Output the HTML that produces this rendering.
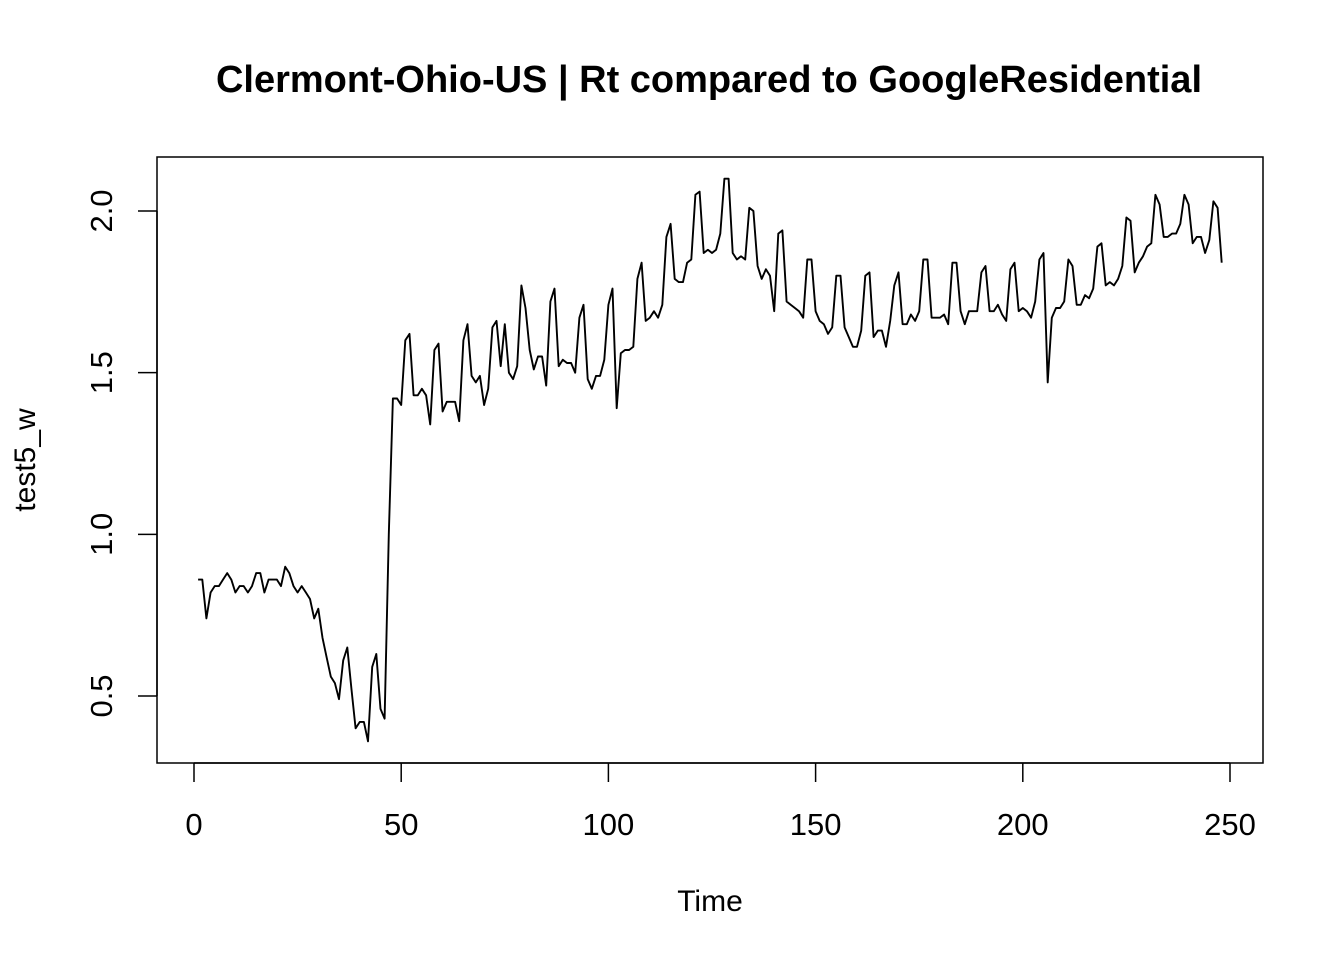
<!DOCTYPE html>
<html><head><meta charset="utf-8"><style>
html,body{margin:0;padding:0;background:#fff;}
svg{display:block;font-family:"Liberation Sans",Arial,sans-serif;}
</style></head><body>
<svg id="chart" width="1344" height="960">
<text x="709" y="92" text-anchor="middle" font-size="38" font-weight="bold">Clermont-Ohio-US | Rt compared to GoogleResidential</text>
<rect x="157" y="157" width="1106" height="606" fill="none" stroke="#000" stroke-width="1.5"/>
<g id="xaxis"></g>
<g id="yaxis"></g>
<text x="710" y="911" text-anchor="middle" font-size="30">Time</text>
<text transform="translate(35,460) rotate(-90)" text-anchor="middle" font-size="30">test5_w</text>
<path id="series" fill="none" stroke="#000" stroke-width="1.9" stroke-linejoin="round"/>
</svg>
<script>
const xTicks=[0,50,100,150,200,250];
const yTicks=[0.5,1.0,1.5,2.0];
const yTickLabels=["0.5","1.0","1.5","2.0"];
const values=[0.86,0.86,0.74,0.82,0.84,0.84,0.86,0.88,0.86,0.82,0.84,0.84,0.82,0.84,0.88,0.88,0.82,0.86,0.86,0.86,0.84,0.90,0.88,0.84,0.82,0.84,0.82,0.80,0.74,0.77,
0.68,0.62,0.56,0.54,0.49,0.61,0.65,0.52,0.40,0.42,0.42,0.36,0.59,0.63,0.46,0.43,1.00,1.42,1.42,1.40,
1.60,1.62,1.43,1.43,1.45,1.43,1.34,1.57,1.59,1.38,1.41,1.41,1.41,1.35,1.60,1.65,1.49,1.47,1.49,1.40,
1.45,1.64,1.66,1.52,1.65,1.50,1.48,1.52,1.77,1.70,1.57,1.51,1.55,1.55,1.46,1.72,1.76,1.52,1.54,1.53,
1.53,1.50,1.67,1.71,1.48,1.45,1.49,1.49,1.54,1.71,1.76,1.39,1.56,1.57,1.57,1.58,1.79,1.84,1.66,1.67,
1.69,1.67,1.71,1.92,1.96,1.79,1.78,1.78,1.84,1.85,2.05,2.06,1.87,1.88,1.87,1.88,1.93,2.10,2.10,1.87,
1.85,1.86,1.85,2.01,2.00,1.83,1.79,1.82,1.80,1.69,1.93,1.94,1.72,1.71,1.70,1.69,1.67,1.85,1.85,1.69,
1.66,1.65,1.62,1.64,1.80,1.80,1.64,1.61,1.58,1.58,1.63,1.80,1.81,1.61,1.63,1.63,1.58,1.66,1.77,1.81,
1.65,1.65,1.68,1.66,1.69,1.85,1.85,1.67,1.67,1.67,1.68,1.65,1.84,1.84,1.69,1.65,1.69,1.69,1.69,1.81,
1.83,1.69,1.69,1.71,1.68,1.66,1.82,1.84,1.69,1.70,1.69,1.67,1.72,1.85,1.87,1.47,1.67,1.70,1.70,1.72,
1.85,1.83,1.71,1.71,1.74,1.73,1.76,1.89,1.90,1.77,1.78,1.77,1.79,1.83,1.98,1.97,1.81,1.84,1.86,1.89,
1.90,2.05,2.02,1.92,1.92,1.93,1.93,1.96,2.05,2.02,1.90,1.92,1.92,1.87,1.91,2.03,2.01,1.84];
const xs=t=>194+(t/250)*1036;
const ys=v=>696-(v-0.5)*(485/1.5);
const NS="http://www.w3.org/2000/svg";
const xa=document.getElementById('xaxis'), ya=document.getElementById('yaxis');
function mk(tag,attrs,parent){const e=document.createElementNS(NS,tag);for(const k in attrs)e.setAttribute(k,attrs[k]);parent.appendChild(e);return e;}
mk('line',{x1:xs(xTicks[0]),x2:xs(xTicks[xTicks.length-1]),y1:763,y2:763,stroke:'#000','stroke-width':1.5},xa);
xTicks.forEach(t=>{
  const l=mk('line',{x1:xs(t),x2:xs(t),y1:763,y2:782,stroke:'#000','stroke-width':1.5},xa);
  
  
  const tx=mk('text',{x:xs(t),y:835,'text-anchor':'middle','font-size':31},xa);
  tx.textContent=String(t);
  
  
});
mk('line',{x1:157,x2:157,y1:ys(yTicks[0]),y2:ys(yTicks[yTicks.length-1]),stroke:'#000','stroke-width':1.5},ya);
yTicks.forEach((v,i)=>{
  const l=mk('line',{x1:138,x2:157,y1:ys(v),y2:ys(v),stroke:'#000','stroke-width':1.5},ya);
  
  
  const tx=mk('text',{transform:`translate(112,${ys(v)}) rotate(-90)`,'text-anchor':'middle','font-size':31},ya);
  tx.textContent=yTickLabels[i];
  
  
});
document.getElementById('series').setAttribute('d',values.map((v,i)=>(i?'L':'M')+xs(i+1).toFixed(1)+','+ys(v).toFixed(1)).join(''));
</script>
</body></html>
